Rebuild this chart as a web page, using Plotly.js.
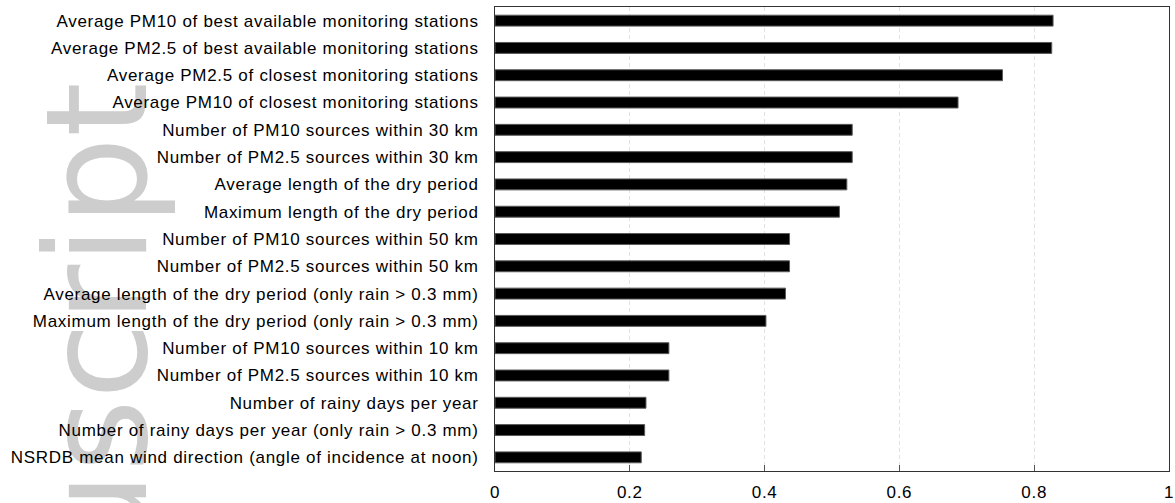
<!DOCTYPE html>
<html>
<head>
<meta charset="utf-8">
<script src="https://cdn.plot.ly/plotly-3.0.1.min.js"></script>
<style>
  html, body { margin: 0; padding: 0; background: #ffffff; }
  #wrap { position: relative; width: 1175px; height: 503px; }
  #wm, #chart { position: absolute; left: 0; top: 0; width: 1175px; height: 503px; }
  #chart .ytick text, #chart .xtick text { letter-spacing: 0.7px; }
</style>
</head>
<body>
<div id="wrap">
  <div id="wm"></div>
  <div id="chart"></div>
</div>
<script>
const categories = [
  "Average PM10 of best available monitoring stations",
  "Average PM2.5 of best available monitoring stations",
  "Average PM2.5 of closest monitoring stations",
  "Average PM10 of closest monitoring stations",
  "Number of PM10 sources within 30 km",
  "Number of PM2.5 sources within 30 km",
  "Average length of the dry period",
  "Maximum length of the dry period",
  "Number of PM10 sources within 50 km",
  "Number of PM2.5 sources within 50 km",
  "Average length of the dry period (only rain > 0.3 mm)",
  "Maximum length of the dry period (only rain > 0.3 mm)",
  "Number of PM10 sources within 10 km",
  "Number of PM2.5 sources within 10 km",
  "Number of rainy days per year",
  "Number of rainy days per year (only rain > 0.3 mm)",
  "NSRDB mean wind direction (angle of incidence at noon)"
];
const values = [0.828, 0.826, 0.753, 0.687, 0.530, 0.530, 0.522, 0.511,
                0.437, 0.437, 0.431, 0.402, 0.258, 0.258, 0.224, 0.222, 0.217];
const xTickVals = [0, 0.2, 0.4, 0.6, 0.8, 1];
const xTickText = ["0", "0.2", "0.4", "0.6", "0.8", "1"];
const watermarkText = "Author Manuscript";

const FONT = "Liberation Sans, Arial, sans-serif";

// Background watermark (behind the chart)
Plotly.newPlot("wm", [], {
  width: 1175, height: 503,
  margin: {l: 0, r: 0, t: 0, b: 0},
  paper_bgcolor: "#ffffff", plot_bgcolor: "#ffffff",
  xaxis: {visible: false, range: [0, 1]},
  yaxis: {visible: false, range: [0, 1]},
  showlegend: false,
  annotations: [{
    text: watermarkText,
    xref: "paper", yref: "paper",
    x: 97 / 1175, y: 1 - 80 / 503,
    xanchor: "center", yanchor: "top",
    textangle: -90,
    showarrow: false,
    font: {family: "DejaVu Sans", size: 140, color: "#cdcdcd"}
  }]
}, {staticPlot: true});

const trace = {
  type: "bar",
  orientation: "h",
  y: categories,
  x: values,
  marker: {color: "#000000", line: {color: "#5a5a5a", width: 1}},
  hoverinfo: "x+y"
};

const layout = {
  width: 1175, height: 503,
  margin: {l: 495, r: 6, t: 7, b: 32},
  paper_bgcolor: "rgba(0,0,0,0)",
  plot_bgcolor: "#ffffff",
  bargap: 0.6,
  showlegend: false,
  font: {family: FONT, size: 17, color: "#000000"},
  xaxis: {
    range: [0, 1],
    tickmode: "array", tickvals: xTickVals, ticktext: xTickText,
    ticks: "inside", ticklen: 6, tickcolor: "#555555", tickwidth: 1,
    showgrid: true, gridcolor: "#e2e2e2", gridwidth: 1, griddash: "4px,3px",
    showline: true, linecolor: "#333333", linewidth: 1, mirror: true,
    zeroline: false,
    ticklabelstandoff: 6,
    tickfont: {family: FONT, size: 17, color: "#000000"}
  },
  yaxis: {
    type: "category",
    categoryorder: "array", categoryarray: categories,
    autorange: "reversed",
    ticks: "",
    showgrid: false,
    showline: true, linecolor: "#333333", linewidth: 1, mirror: true,
    zeroline: false,
    ticklabelstandoff: 12,
    tickfont: {family: FONT, size: 17, color: "#000000"}
  }
};

Plotly.newPlot("chart", [trace], layout, {displayModeBar: false});
</script>
</body>
</html>
